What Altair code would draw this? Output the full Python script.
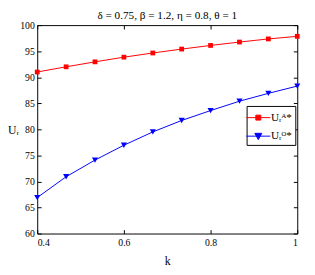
import altair as alt
import pandas as pd

# ---- data ----
k_vals = [0.4, 0.4667, 0.5333, 0.6, 0.6667, 0.7333, 0.8, 0.8667, 0.9333, 1.0]
ua_vals = [91.0, 92.0, 92.95, 93.85, 94.65, 95.4, 96.1, 96.75, 97.35, 97.85]
uo_vals = [66.9, 70.9, 74.1, 76.95, 79.5, 81.7, 83.6, 85.4, 86.9, 88.3]
series_names = ["Uᵣᴬ*", "Uᵣᴼ*"]
series_colors = ["#ff0000", "#0000ff"]
x_ticks = [0.4, 0.6, 0.8, 1.0]
y_ticks = [60, 65, 70, 75, 80, 85, 90, 95, 100]
title_text = "δ = 0.75, β = 1.2, η = 0.8, θ = 1"

rows = []
for kv, a in zip(k_vals, ua_vals):
    rows.append({"k": kv, "U": a, "series": series_names[0]})
for kv, o in zip(k_vals, uo_vals):
    rows.append({"k": kv, "U": o, "series": series_names[1]})
df = pd.DataFrame(rows)

FONT = "Liberation Serif, DejaVu Serif, serif"
W, H = 267, 214

xscale = alt.Scale(domain=[0.4, 1.0], nice=False, zero=False)
yscale = alt.Scale(domain=[60, 100], nice=False, zero=False)
cscale = alt.Scale(domain=series_names, range=series_colors)

common_axis = dict(grid=False, domain=False, tickSize=4, offset=-4,
                   tickColor="black", tickWidth=1, labelColor="black",
                   labelFont=FONT, labelFontSize=10, titleFont=FONT,
                   titleFontWeight="normal", titleColor="black")

axis_bottom = alt.Axis(orient="bottom", values=x_ticks, format="~g",
                       labelPadding=4, title="k", titleFontSize=12,
                       titlePadding=9, **common_axis)
axis_left = alt.Axis(orient="left", values=y_ticks, labelPadding=3,
                     title="Uᵣ", titleFontSize=12, titleAngle=0,
                     titleAlign="left", titleBaseline="middle",
                     titleX=-34.5, titleY=H / 2, **common_axis)
axis_top = alt.Axis(orient="top", values=x_ticks, labels=False, title=None,
                    **common_axis)
axis_right = alt.Axis(orient="right", values=y_ticks, labels=False, title=None,
                      **common_axis)

base = alt.Chart(df)
sel_a = alt.datum.series == series_names[0]
sel_o = alt.datum.series == series_names[1]

line_a = base.transform_filter(sel_a).mark_line(
    strokeWidth=1, color=series_colors[0]).encode(
    x=alt.X("k:Q", scale=xscale, axis=axis_bottom),
    y=alt.Y("U:Q", scale=yscale, axis=axis_left),
)
line_o = base.transform_filter(sel_o).mark_line(
    strokeWidth=1, color=series_colors[1]).encode(
    x=alt.X("k:Q", scale=xscale, axis=None),
    y=alt.Y("U:Q", scale=yscale, axis=None),
)
squares = base.transform_filter(sel_a).mark_point(
    shape="square", filled=True, size=24, opacity=1, color=series_colors[0]).encode(
    x=alt.X("k:Q", scale=xscale, axis=axis_top),
    y=alt.Y("U:Q", scale=yscale, axis=axis_right),
)
triangles = base.transform_filter(sel_o).mark_point(
    shape="triangle-down", filled=True, size=40, opacity=1, color=series_colors[1]).encode(
    x=alt.X("k:Q", scale=xscale, axis=None),
    y=alt.Y("U:Q", scale=yscale, axis=None),
)

# legend symbol: line segment with marker (unit coords scaled by sqrt(size)/2)
path_sq = "M-1.45,0H1.45M-0.3,-0.3H0.3V0.3H-0.3Z"
path_tri = "M-1.45,0H1.45M-0.42,-0.34H0.42L0,0.42Z"

leg = alt.Legend(title=None, orient="none", legendX=215, legendY=83,
                 symbolSize=289, rowPadding=4)

legend_layer = base.mark_point(filled=True, opacity=0, size=289).encode(
    x=alt.X("k:Q", scale=xscale, axis=None),
    y=alt.Y("U:Q", scale=yscale, axis=None),
    color=alt.Color("series:N", scale=cscale, legend=leg),
    stroke=alt.Stroke("series:N", scale=cscale, legend=leg),
    shape=alt.Shape("series:N",
                    scale=alt.Scale(domain=series_names, range=[path_sq, path_tri]),
                    legend=leg),
)

chart = alt.layer(line_a, line_o, squares, triangles, legend_layer).resolve_scale(
    x="independent", y="independent"
).properties(
    width=W, height=H,
    title=alt.TitleParams(title_text, font=FONT, fontSize=11.5,
                          fontWeight="normal", color="black", offset=4,
                          dy=5, anchor="middle"),
    autosize=alt.AutoSizeParams(type="none"),
    padding={"left": 30, "top": 14, "right": 10, "bottom": 39},
).configure_view(
    stroke="black", strokeWidth=1
).configure_legend(
    strokeColor="black", fillColor="white", padding=3,
    labelFont=FONT, labelFontSize=11.5, labelColor="black",
    labelOffset=4, symbolStrokeWidth=1, symbolOpacity=1, cornerRadius=0,
)

chart.save("out.html", embed_options={"renderer": "svg", "actions": False})
